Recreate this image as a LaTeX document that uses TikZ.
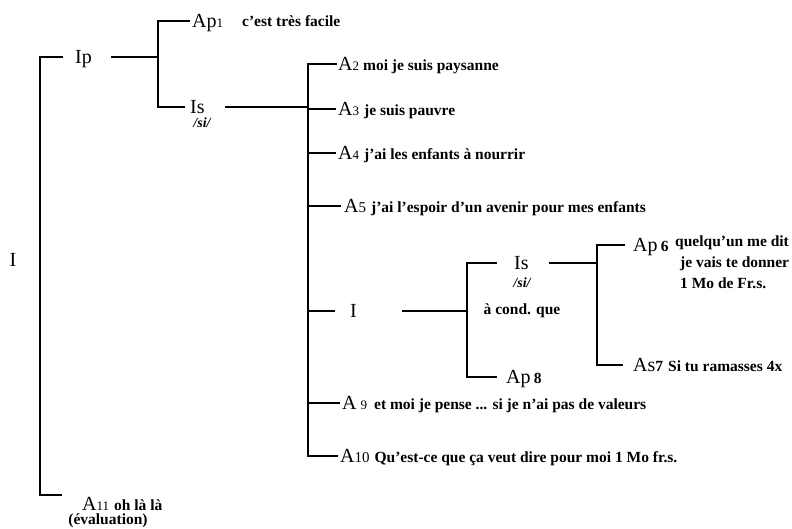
\documentclass[tikz,border=0pt]{standalone}
\usepackage{fontspec}
\setmainfont{Liberation Serif}
\usetikzlibrary{positioning}
\newcommand{\nb}[1]{{\fontsize{13}{14}\selectfont #1}}
\newcommand{\say}[1]{{\fontsize{15.5}{16}\selectfont\bfseries #1}}
\tikzset{
  wire/.style={black,line width=2.7pt},
  lab/.style={font=\fontsize{20}{22}\selectfont,inner sep=0pt,text height=14pt,text depth=2pt},
  item/.style={lab,anchor=west},
  gloss/.style={font=\fontsize{14}{15}\selectfont\bfseries\itshape,inner sep=0pt},
  saying/.style={font=\fontsize{15.5}{21}\selectfont\bfseries,inner sep=0pt,anchor=west},
}

\begin{document}
\begin{tikzpicture}[x=1pt,y=-1pt]
  \path[use as bounding box] (0,0) rectangle (792,528);

  % whole interaction
  \node[lab] (root) at (13,260) {I};
  \node[item] (ip) at (75,57) {Ip};
  \node[item,text depth=0pt] (a11) at (82,503) {A\nb{11} \say{oh là là}};
  \node[saying,anchor=center,text height=9pt] (eval) at (108,522) {(évaluation)};
  \coordinate (mtop) at (40,57);
  \coordinate (mbot) at (40,495);
  \draw[wire] ([xshift=-12]ip.west) -- (mtop) -- (mbot) -- ([xshift=-20]a11.west |- mbot);

  % Ip
  \node[item] (ap1) at (192,21) {Ap\nb{1}};
  \node[saying] (ap1t) at (242,21) {c'est très facile};
  \node[item] (is1) at (190,107) {Is};
  \node[gloss] (si1) at (202,123) {/si/};
  \coordinate (j1) at (158,57);
  \draw[wire] ([xshift=19]ip.east) -- (j1);
  \draw[wire] ([xshift=-2]ap1.west) -| (j1) |- ([xshift=-5]is1.west);

  % Is: the reasons
  \node[item] (a2) at (338,64) {A\nb{2}\hspace{4pt}\say{moi je suis paysanne}};
  \node[item] (a3) at (338,109) {A\nb{3} \say{je suis pauvre}};
  \node[item] (a4) at (338,153) {A\nb{4} \say{j'ai les enfants à nourrir}};
  \node[item] (a5) at (344,206) {A{\fontsize{15}{15}\selectfont 5} \say{j'ai l'espoir d'un avenir pour mes enfants}};
  \node[item] (i2) at (350,311) {I};
  \node[item] (a9) at (342,403) {A\hspace{4pt}\nb{9}\hspace{7pt}\say{et moi je pense ... si je n'ai pas de valeurs}};
  \node[item] (a10) at (340,456) {A{\fontsize{15}{15}\selectfont 10} \say{Qu'est-ce que ça veut dire pour moi 1 Mo fr.s.}};
  \coordinate (j2) at (308,107);
  \draw[wire] ([xshift=20]is1.east) -- (j2);
  \draw[wire] ([xshift=-1]a2.west) -| (j2) |- ([xshift=-2]a10.west);
  \foreach \n/\gap in {a3/2,a4/2,a5/3,i2/15,a9/2}
    \draw[wire] (j2 |- \n.west) -- ([xshift=-\gap]\n.west);

  % embedded I
  \node[item] (is2) at (514,263) {Is};
  \node[gloss] (si2) at (522,283) {/si/};
  \node[saying,anchor=center] (cond) at (522,311) {à cond. que};
  \node[item] (ap8) at (506,377) {Ap\,\say{8}};
  \coordinate (j3) at (467,311);
  \draw[wire] ([xshift=45]i2.east) -- (j3);
  \draw[wire] ([xshift=-17]is2.west) -| (j3) |- ([xshift=-9]ap8.west);

  % embedded Is
  \node[item] (ap6) at (633,245) {Ap\,\say{6}};
  \node[saying,anchor=north west,align=left] (ap6t) at (675,236)
    {quelqu'un me dit\\\hspace{5pt}je vais te donner\\\hspace{5pt}1 Mo de Fr.s.};
  \node[item] (as7) at (633,365) {As\say{7}\hspace{5pt}\say{Si tu ramasses 4x}};
  \coordinate (j4) at (597,263);
  \draw[wire] ([xshift=20]is2.east) -- (j4);
  \draw[wire] ([xshift=-8]ap6.west) -| (j4) |- ([xshift=-10]as7.west);
\end{tikzpicture}
\end{document}
